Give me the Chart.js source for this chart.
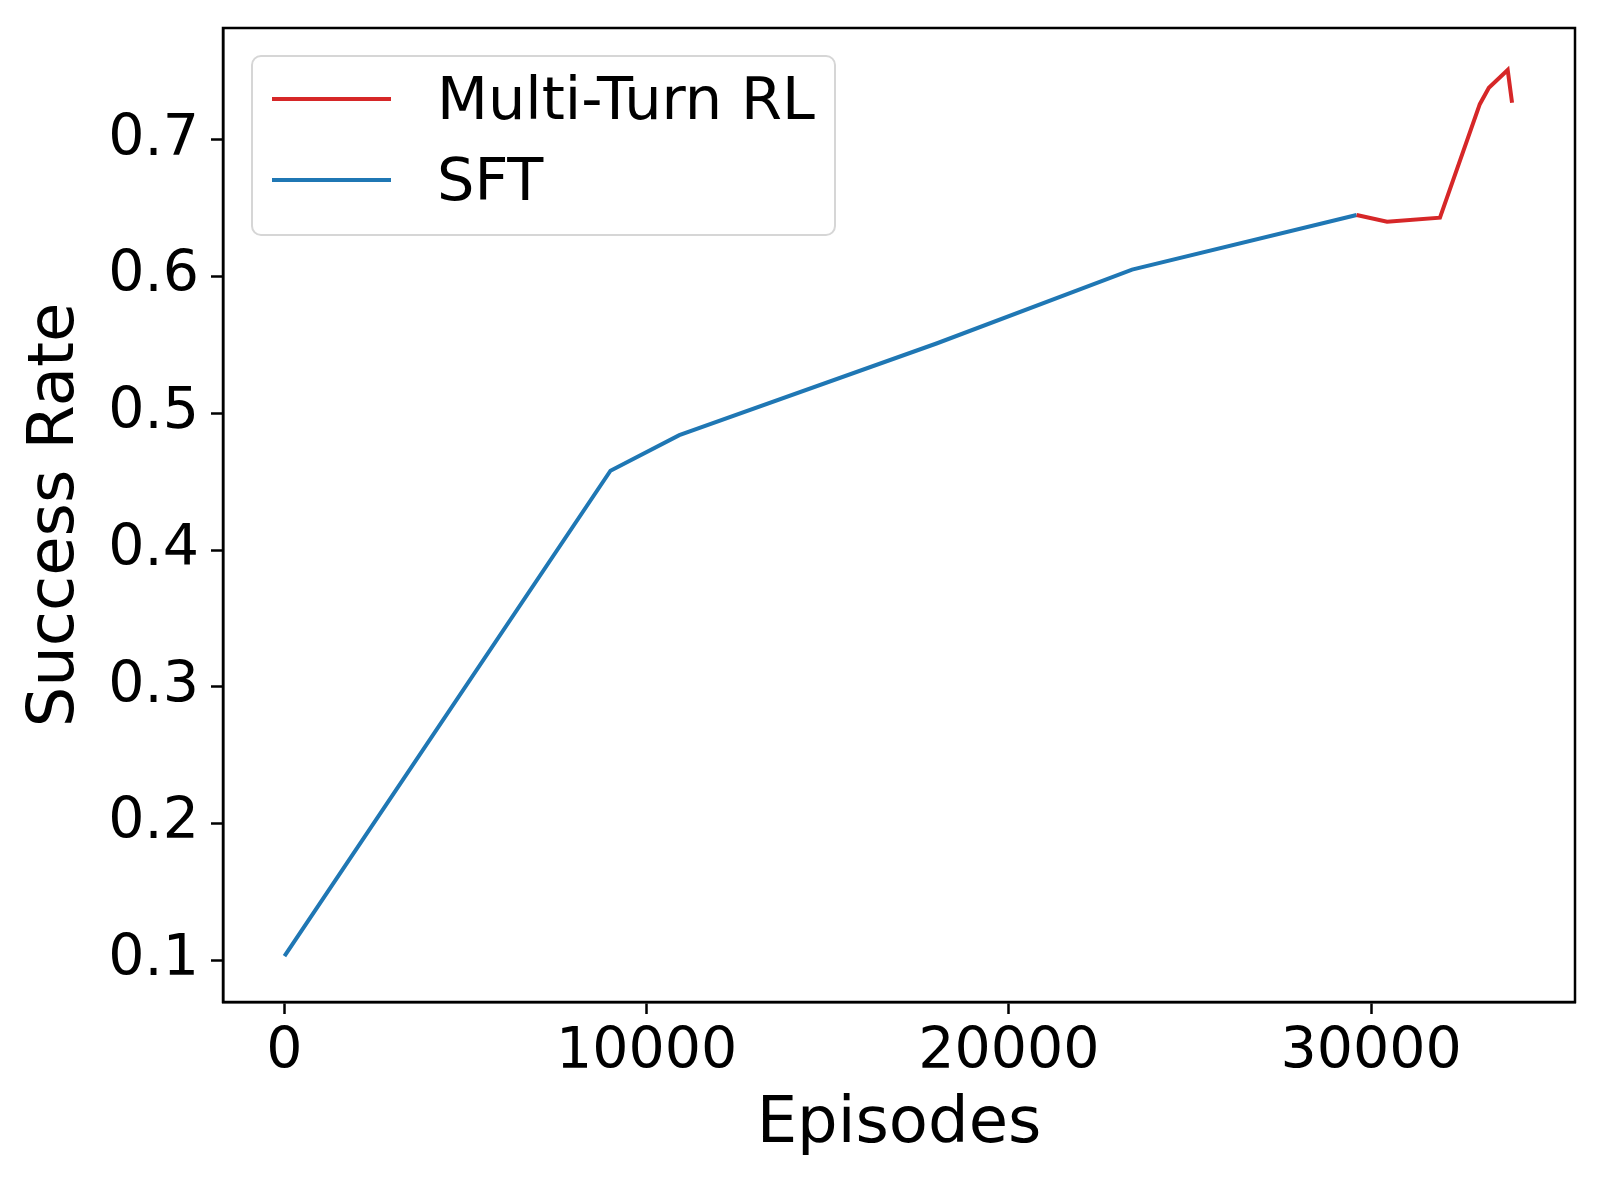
<!DOCTYPE html>
<html>
<head>
<meta charset="utf-8">
<script src="https://cdn.jsdelivr.net/npm/chart.js@4"></script>
<style>
  html, body { margin: 0; padding: 0; background: #fff; }
  #chart { display: block; }
</style>
</head>
<body>
<canvas id="chart" width="1600" height="1181"></canvas>
<script>
// data
const sftEpisodes = [0, 9000, 10900, 18000, 23400, 29600];
const sftRate = [0.103, 0.458, 0.484, 0.551, 0.605, 0.645];
const rlEpisodes = [29600, 30440, 31900, 33000, 33250, 33770, 33890];
const rlRate = [0.645, 0.640, 0.643, 0.726, 0.738, 0.751, 0.727];
const xTicks = [0, 10000, 20000, 30000];
const yTicks = [0.1, 0.2, 0.3, 0.4, 0.5, 0.6, 0.7];
const seriesNames = ["Multi-Turn RL", "SFT"];

const FONT = "DejaVu Sans";

function toPoints(xs, ys){
    let pts = [];
    for (let i = 0; i < xs.length; i++) {
        pts.push({x: xs[i], y: ys[i]});
    }
    return pts;
}

// frame round the plot area (matplotlib spines)
const framePlugin = {
    id: 'frame',
    afterDatasetsDraw(chart){
        const a = chart.chartArea;
        const ctx = chart.ctx;
        ctx.save();
        ctx.strokeStyle = '#000';
        ctx.lineWidth = 2.5;
        ctx.strokeRect(a.left, a.top, a.right - a.left, a.bottom - a.top);
        ctx.restore();
    }
};

// legend box inside the axes, upper left
const legendPlugin = {
    id: 'boxLegend',
    afterDraw(chart){
        const ctx = chart.ctx;
        const x0 = 252, y0 = 56, w = 583, h = 179, r = 9;
        ctx.save();
        ctx.beginPath();
        ctx.roundRect(x0, y0, w, h, r);
        ctx.fillStyle = 'rgba(255,255,255,0.8)';
        ctx.fill();
        ctx.strokeStyle = '#d6d6d6';
        ctx.lineWidth = 2;
        ctx.stroke();
        const rows = [99, 180];
        chart.data.datasets.forEach((ds, i) => {
            ctx.beginPath();
            ctx.moveTo(272, rows[i]);
            ctx.lineTo(391, rows[i]);
            ctx.strokeStyle = ds.borderColor;
            ctx.lineWidth = 4;
            ctx.stroke();
            ctx.fillStyle = '#000';
            ctx.font = '59px "' + FONT + '"';
            ctx.textBaseline = 'middle';
            ctx.textAlign = 'left';
            ctx.fillText(ds.label, 437, rows[i] + 5);
        });
        ctx.restore();
    }
};

function noPad(s){
    s.paddingTop = 0;
    s.paddingBottom = 0;
    s.paddingLeft = 0;
    s.paddingRight = 0;
}

const ctx = document.getElementById('chart').getContext('2d');
const myChart = new Chart(ctx, {
    type: 'line',
    data: {
        datasets: [{
            label: seriesNames[0],
            data: toPoints(rlEpisodes, rlRate),
            borderColor: '#d62728',
            borderWidth: 4,
            pointRadius: 0,
            tension: 0,
            fill: false
        }, {
            label: seriesNames[1],
            data: toPoints(sftEpisodes, sftRate),
            borderColor: '#1f77b4',
            borderWidth: 4,
            pointRadius: 0,
            tension: 0,
            fill: false
        }]
    },
    options: {
        responsive: false,
        animation: false,
        devicePixelRatio: 1,
        layout: {
            padding: {top: 28, right: 25, left: 0, bottom: 0}
        },
        plugins: {
            legend: {display: false},
            tooltip: {enabled: false}
        },
        scales: {
            x: {
                type: 'linear',
                min: -1697,
                max: 35628,
                afterBuildTicks: s => { s.ticks = xTicks.map(v => ({value: v})); },
                afterFit: s => { s.height = 1181 - 1002; noPad(s); },
                grid: {
                    drawOnChartArea: false,
                    drawTicks: true,
                    tickLength: 12,
                    tickWidth: 2.5,
                    tickColor: '#000'
                },
                border: {display: true, color: '#000', width: 2.5},
                ticks: {
                    color: '#000',
                    padding: 5,
                    maxRotation: 0,
                    font: {family: FONT, size: 57},
                    callback: v => String(v)
                },
                title: {
                    display: true,
                    text: 'Episodes',
                    color: '#000',
                    font: {family: FONT, size: 64},
                    padding: {top: 0, bottom: 17}
                }
            },
            y: {
                type: 'linear',
                min: 0.0695,
                max: 0.7817,
                afterBuildTicks: s => { s.ticks = yTicks.map(v => ({value: v})); },
                afterFit: s => { s.width = 223; noPad(s); },
                grid: {
                    drawOnChartArea: false,
                    drawTicks: true,
                    tickLength: 12,
                    tickWidth: 2.5,
                    tickColor: '#000'
                },
                border: {display: true, color: '#000', width: 2.5},
                ticks: {
                    color: '#000',
                    padding: 12,
                    font: {family: FONT, size: 57},
                    callback: v => v.toFixed(1)
                },
                title: {
                    display: true,
                    text: 'Success Rate',
                    color: '#000',
                    font: {family: FONT, size: 64},
                    padding: {top: 18, bottom: 0}
                }
            }
        }
    },
    plugins: [framePlugin, legendPlugin]
});
</script>
</body>
</html>
